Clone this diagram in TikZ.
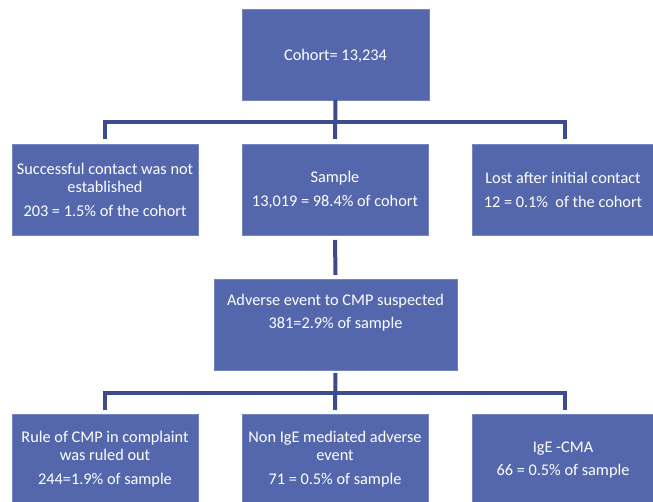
\documentclass[tikz,border=0pt]{standalone}
\usepackage{fontspec}
\setmainfont{Carlito}
\definecolor{boxfill}{HTML}{5467AD}
\definecolor{boxedge}{HTML}{7485C2}
\definecolor{connc}{HTML}{3D4C8C}
\tikzset{
  box/.style={draw=boxedge, line width=0.8pt, fill=boxfill, minimum width=186pt, minimum height=91pt, inner sep=0pt, outer sep=0pt},
  txt/.style={text=white, align=center, inner sep=0pt, font=\fontsize{16.3}{18.5}\selectfont},
  conn/.style={draw=connc, line width=4pt}
}
\begin{document}
\begin{tikzpicture}[x=1pt, y=-1pt]
\useasboundingbox (0,0) rectangle (653,502);
% boxes
\node[box, minimum width=187pt] (cohort) at (335.5,54.5) {};
\node[box] (nocontact) at (105,189.5) {};
\node[box] (sample) at (335,189.5) {};
\node[box] (lost) at (565,189.5) {};
\node[box, minimum width=243pt] (adverse) at (335.5,324.5) {};
\node[box] (rule) at (105,459.5) {};
\node[box] (nonige) at (335,459.5) {};
\node[box] (ige) at (565,459.5) {};
% texts
\node[txt] (tcohort) at (335.5,56) {Cohort= 13,234};
\node[txt] (tnocontact) at (105,189.5) {Successful contact was not\\established\\[5pt]203 = 1.5\% of the cohort};
\node[txt] (tsample) at (335,190) {Sample\\[5pt]13,019 = 98.4\% of cohort};
\node[txt] (tlost) at (563,190) {Lost after initial contact\\[5pt]12 = 0.1\%~ of the cohort};
\node[txt] (tadverse) at (335.5,312.5) {Adverse event to CMP suspected\\[5pt]381=2.9\% of sample};
\node[txt] (trule) at (105,459) {Rule of CMP in complaint\\was ruled out\\[5pt]244=1.9\% of sample};
\node[txt] (tnonige) at (335,459) {Non IgE mediated adverse\\event\\[5pt]71 = 0.5\% of sample};
\node[txt] (tige) at (563,460) {IgE -CMA\\[5pt]66 = 0.5\% of sample};
% bus coordinates
\coordinate (bus1) at (335.5,122.5);
\coordinate (bus2) at (335.5,393);
% connectors
\draw[conn] (cohort.south) -- ([yshift=5pt]sample.north);
\draw[conn] ([yshift=5pt]nocontact.north) -- (nocontact.north |- bus1) -- (lost.north |- bus1) -- ([yshift=5pt]lost.north);
\draw[conn] ([yshift=-5pt]sample.south) -- ([yshift=4pt]adverse.north);
\draw[conn] ([yshift=-3pt]adverse.south) -- ([yshift=4pt]nonige.north);
\draw[conn] ([yshift=4pt]rule.north) -- (rule.north |- bus2) -- (ige.north |- bus2) -- ([yshift=4pt]ige.north);
\end{tikzpicture}
\end{document}
